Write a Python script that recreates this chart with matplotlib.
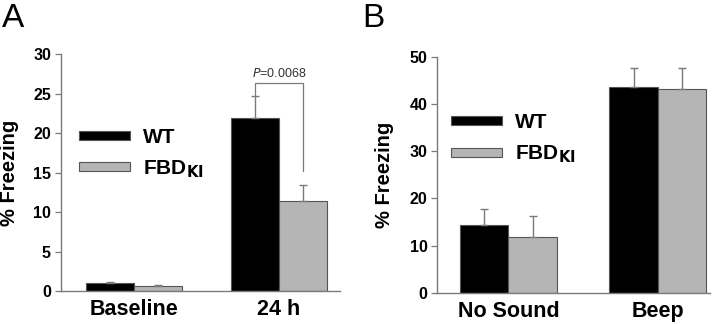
import numpy as np
import matplotlib.pyplot as plt

plt.rcParams['font.family'] = ['Liberation Sans', 'DejaVu Sans']

# Panel A data
groups_a = ['Baseline', '24 h']
wt_a = [1.0, 21.9]
wt_a_err = [0.2, 2.85]
ki_a = [0.63, 11.4]
ki_a_err = [0.12, 2.05]
p_text = '$\\it{P}$=0.0068'

# Panel B data
groups_b = ['No Sound', 'Beep']
wt_b = [14.3, 43.6]
wt_b_err = [3.4, 4.1]
ki_b = [11.9, 43.2]
ki_b_err = [4.4, 4.4]

black = '#000000'
grey = '#b5b5b5'
edge = '#555555'
spine_c = '#7a7a7a'

fig = plt.figure(figsize=(7.2, 3.24), dpi=100)
ax_a = fig.add_axes([0.0843, 0.1019, 0.388, 0.7305])
ax_b = fig.add_axes([0.6074, 0.0966, 0.379, 0.7284])


def draw_panel(ax, groups, wt, wt_err, ki, ki_err, pos, xlim, ymax, ystep, lab_x):
    pos = np.array(pos)
    ekw = dict(ecolor=spine_c, elinewidth=1.0, capsize=3, capthick=1.0)
    ax.bar(pos - 0.5, wt, width=1, color=black, edgecolor=edge, linewidth=0.8,
           yerr=[np.zeros(len(wt)), wt_err], error_kw=ekw, label='WT', zorder=2)
    ax.bar(pos + 0.5, ki, width=1, color=grey, edgecolor=edge, linewidth=0.8,
           yerr=[np.zeros(len(ki)), ki_err], error_kw=ekw, label='FBD$_{\\mathbf{KI}}$', zorder=2)
    ax.set_xlim(*xlim)
    ax.set_ylim(0, ymax)
    ax.set_yticks(np.arange(0, ymax + 1, ystep))
    ax.set_xticks(pos)
    ax.set_xticklabels(groups, fontsize=15.5, fontweight='bold')
    ax.tick_params(axis='x', length=0, pad=6)
    ax.tick_params(axis='y', length=4, width=0.9, color=spine_c, labelsize=11.5, pad=3)
    for lab in ax.get_yticklabels():
        lab.set_fontweight('bold')
    for s in ['top', 'right']:
        ax.spines[s].set_visible(False)
    for s in ['left', 'bottom']:
        ax.spines[s].set_color(spine_c)
        ax.spines[s].set_linewidth(1.0)
    ax.set_ylabel('% Freezing', fontsize=14.5, fontweight='bold')
    ax.yaxis.set_label_coords(lab_x, 0.5)


draw_panel(ax_a, groups_a, wt_a, wt_a_err, ki_a, ki_a_err, [0, 3.02], (-1.527, 4.29), 30, 5, -0.15)
draw_panel(ax_b, groups_b, wt_b, wt_b_err, ki_b, ki_b_err, [0, 3.09], (-1.47, 4.176), 50, 10, -0.16)

# significance bracket in panel A
x1 = 3.02 - 0.5
x2 = 3.02 + 0.5
ytop = 26.3
ax_a.plot([x1, x1, x2, x2], [wt_a[1] + wt_a_err[1], ytop, ytop, 15.2],
          color=spine_c, linewidth=0.9, zorder=3)
ax_a.text((x1 + x2) / 2, ytop + 0.4, p_text, ha='center', va='bottom',
          fontsize=9, color='#333333')

leg_kw = dict(frameon=False, handlelength=2.45, handleheight=0.28,
              handletextpad=0.6, labelspacing=0.55, borderpad=0, borderaxespad=0,
              prop={'weight': 'bold', 'size': 15})
ax_a.legend(loc='upper left', bbox_to_anchor=(0.066, 0.689), **leg_kw)
ax_b.legend(loc='upper left', bbox_to_anchor=(0.05, 0.761), **leg_kw)

fig.text(0.003, 0.99, 'A', fontsize=24, va='top', ha='left')
fig.text(0.503, 0.99, 'B', fontsize=24, va='top', ha='left')

fig.savefig('out.png', dpi=100)
